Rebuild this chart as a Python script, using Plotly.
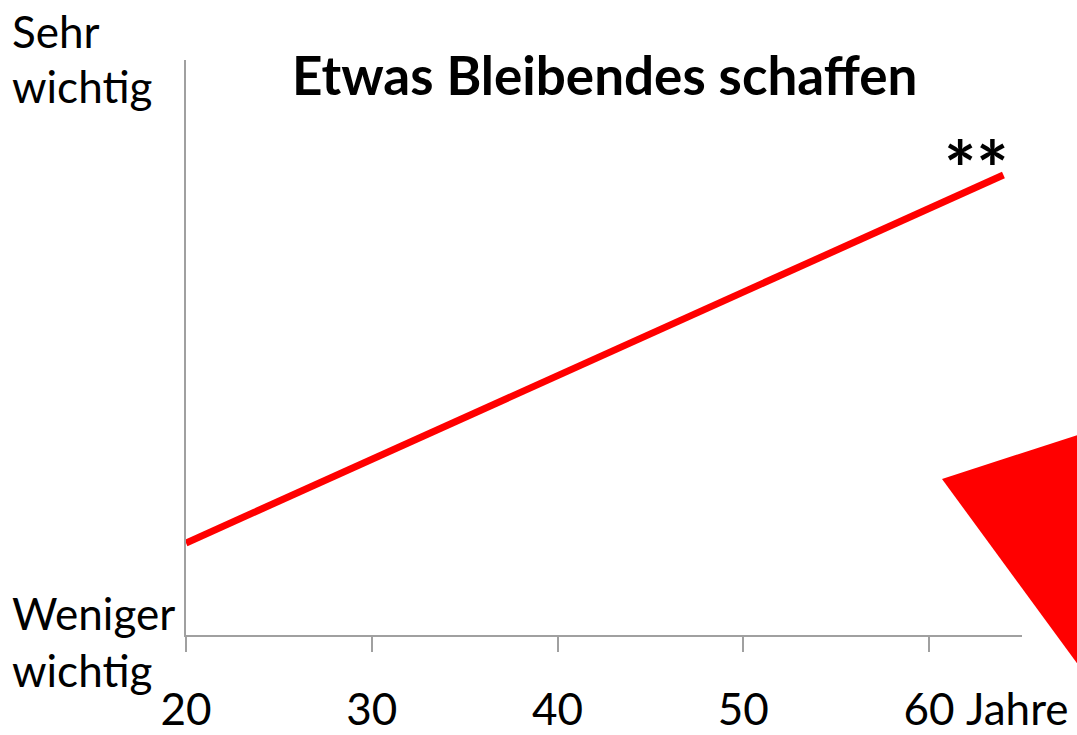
import plotly.graph_objects as go

# Trend of "Etwas Bleibendes schaffen" by age
ages = [20, 64]
importance = [16, 80]
x_ticks = [20, 30, 40, 50, 60]
x_tick_labels = ["20", "30", "40", "50", "60"]

W, H = 1077, 735
L, R, T, B = 186, 55, 60, 100
FONT = "Lato"
AXIS_GRAY = "#a0a0a0"
# separate spans keep "ti" from turning into a ligature
WICHTIG = "wich<span>t</span><span>ig</span>"


def px(x, y):
    """Pixel position -> paper coordinates."""
    pw = W - L - R
    ph = H - T - B
    return (x - L) / pw, (H - B - y) / ph


fig = go.Figure()
fig.add_trace(go.Scatter(
    x=ages, y=importance, mode="lines",
    line=dict(color="#ff0000", width=7),
    hoverinfo="skip", showlegend=False,
))

annotations = []


def label(text, x, y, size=44, bold=False, xanchor="left", yanchor="middle"):
    ax, ay = px(x, y)
    if bold:
        text = f"<b>{text}</b>"
    annotations.append(dict(
        text=text, x=ax, y=ay, xref="paper", yref="paper",
        xanchor=xanchor, yanchor=yanchor, showarrow=False,
        font=dict(family=FONT, size=size, color="black"),
    ))


label("Sehr", 10, 31)
label(WICHTIG, 10, 86)
label("Weniger", 10, 613)
label(WICHTIG, 10, 670)
label("Jahre", 1070, 708, size=44, xanchor="right")
label("Etwas Bleibendes schaffen", 604, 75, size=53, bold=True, xanchor="center")
label("**", 976, 168, size=76, bold=True, xanchor="center")

fig.update_layout(annotations=annotations)

# Decorative red triangle in the lower right corner
p1 = px(942, 479)
p2 = px(1090, 431)
p3 = px(1090, 681)
fig.add_shape(
    type="path", xref="paper", yref="paper",
    path=f"M {p1[0]} {p1[1]} L {p2[0]} {p2[1]} L {p3[0]} {p3[1]} Z",
    fillcolor="#ff0000", line=dict(width=0), layer="above",
)

fig.update_xaxes(
    range=[20, 65], tickvals=x_ticks, ticktext=x_tick_labels,
    showline=True, linecolor=AXIS_GRAY, linewidth=2,
    ticks="outside", ticklen=15, tickwidth=2, tickcolor=AXIS_GRAY,
    showgrid=False, zeroline=False, automargin=False,
    tickfont=dict(family=FONT, size=44, color="black"),
    ticklabelstandoff=20,
)
fig.update_yaxes(
    range=[0, 100], showline=True, linecolor=AXIS_GRAY, linewidth=2,
    showticklabels=False, ticks="", showgrid=False, zeroline=False,
    automargin=False,
)

fig.update_layout(
    width=W, height=H,
    margin=dict(l=L, r=R, t=T, b=B, pad=0, autoexpand=False),
    plot_bgcolor="white", paper_bgcolor="white",
    font=dict(family=FONT),
)

fig.write_html("out.html")
